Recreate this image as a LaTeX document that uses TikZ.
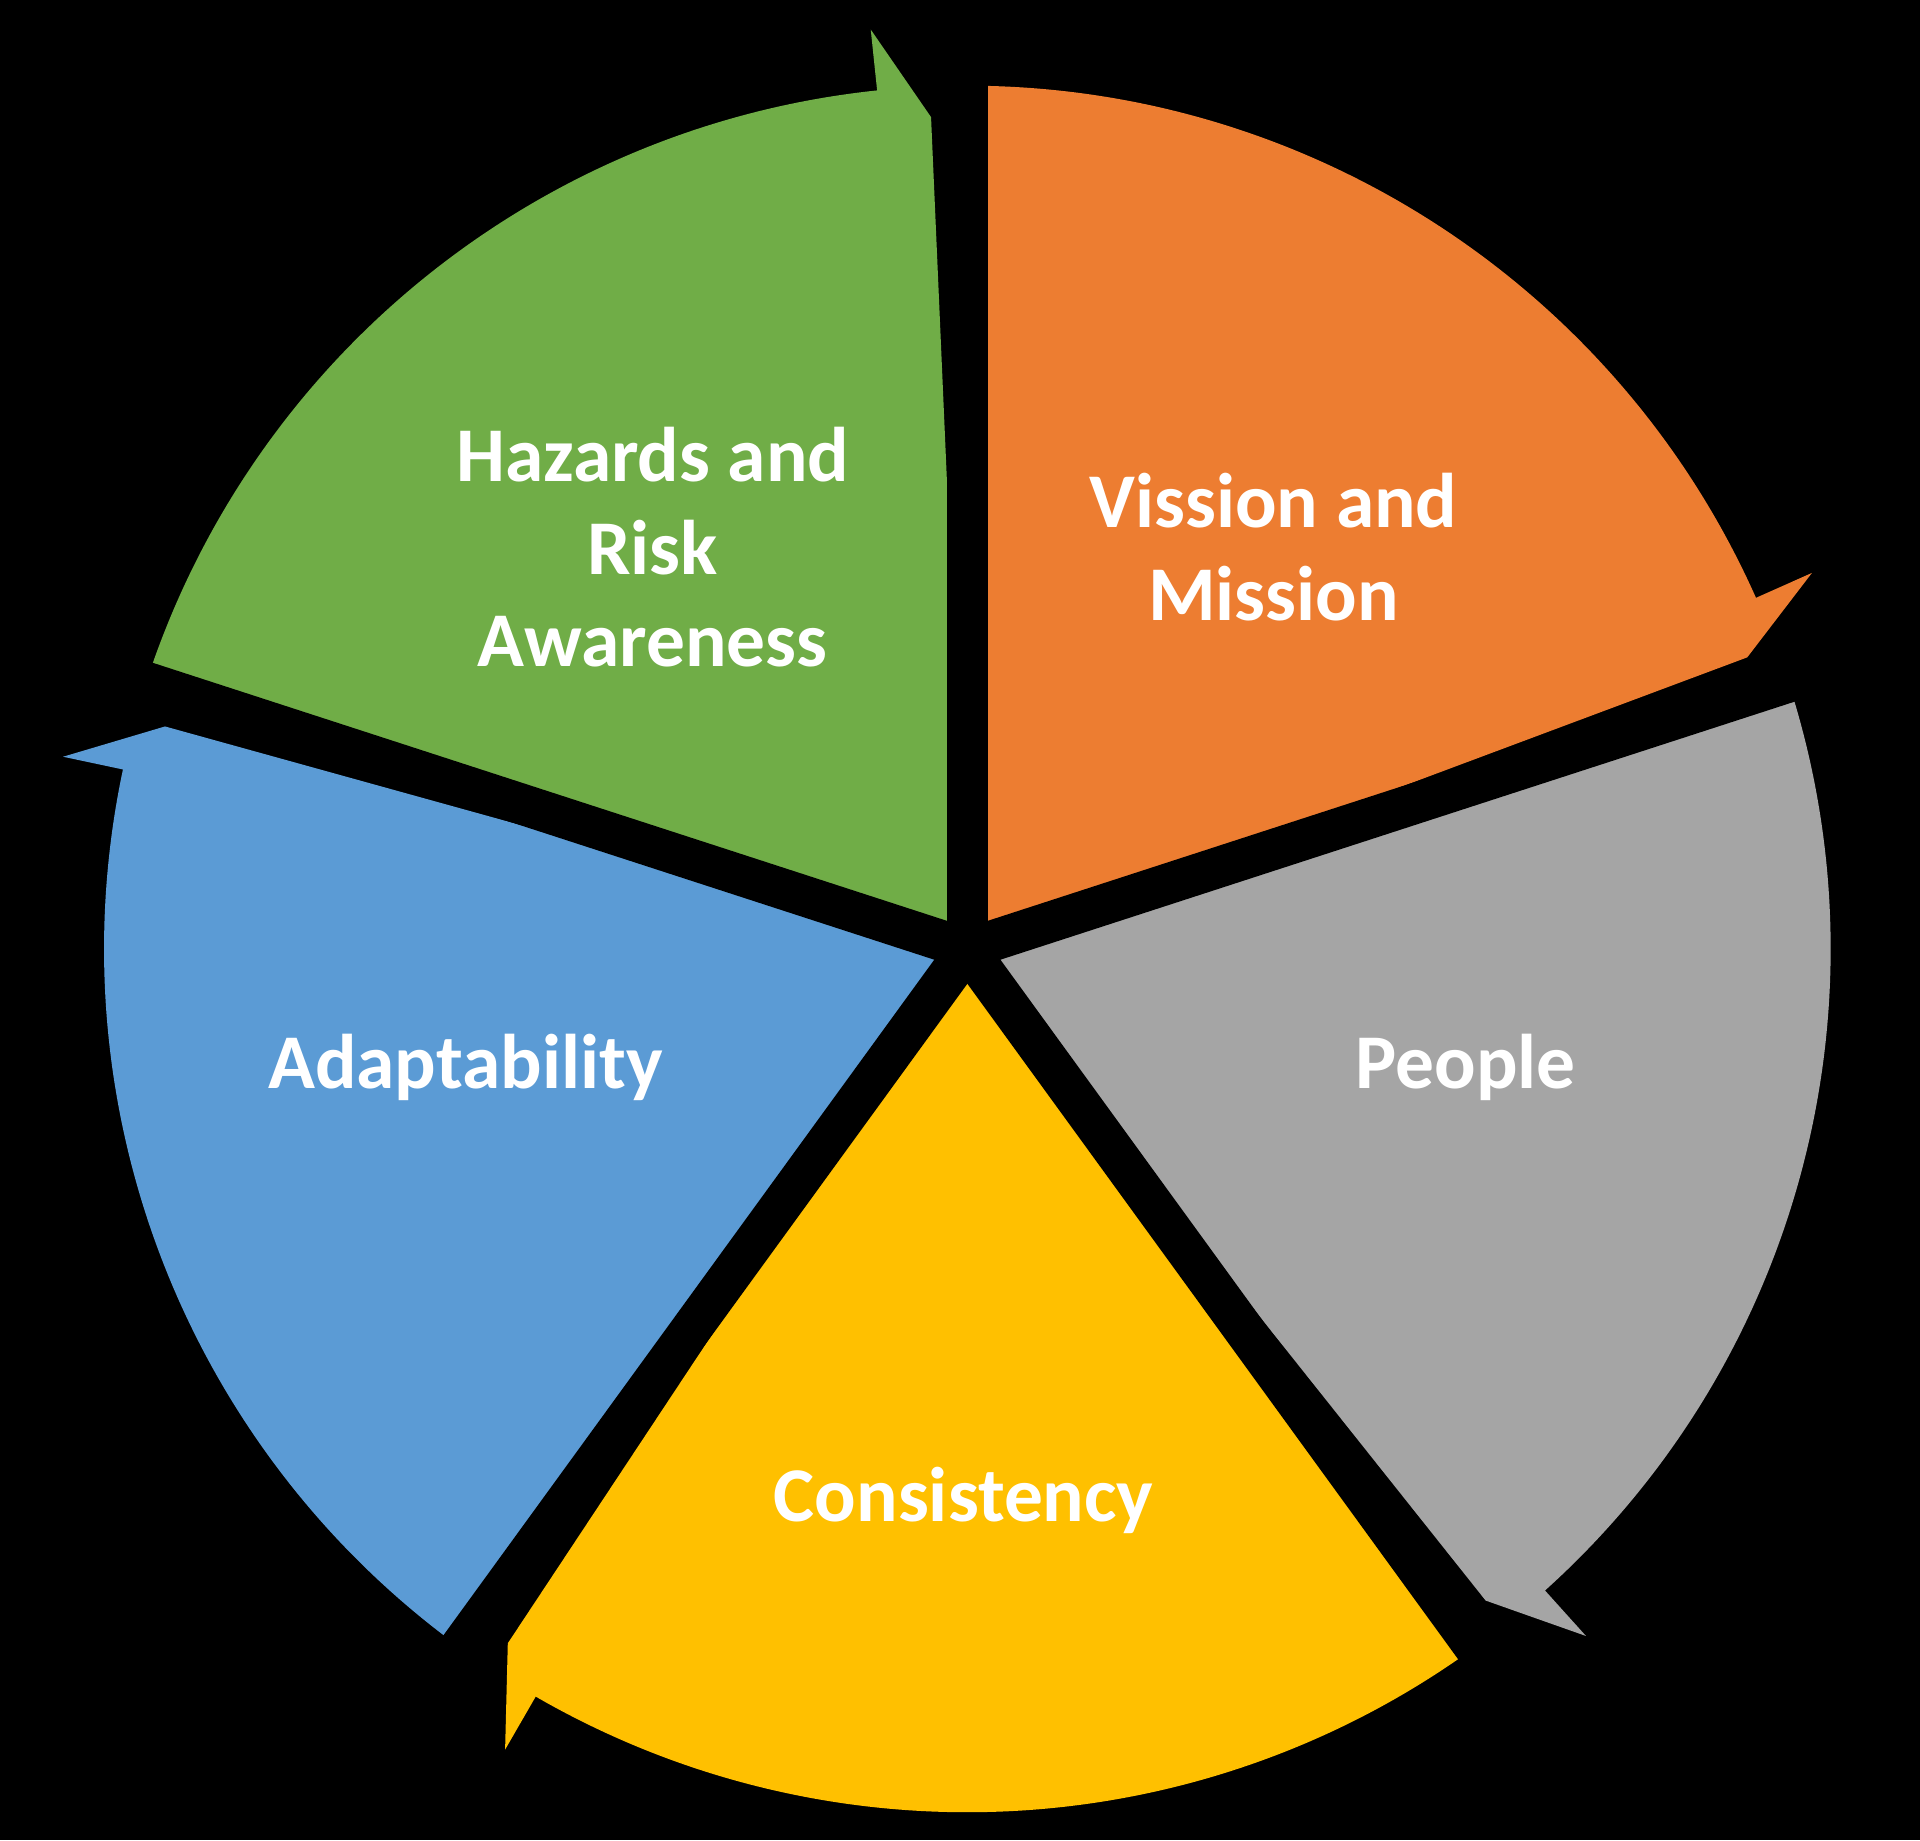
\documentclass[tikz,border=0pt]{standalone}
\usepackage{fontspec}
\setmainfont{Carlito}
\usetikzlibrary{calc}
\definecolor{cgreen}{HTML}{70AD47}
\definecolor{corange}{HTML}{ED7D31}
\definecolor{cgray}{HTML}{A5A5A5}
\definecolor{cyellow}{HTML}{FFC000}
\definecolor{cblue}{HTML}{5B9BD5}
\tikzset{lab/.style={text=white,font=\fontsize{36}{43}\selectfont\bfseries,align=center},
gapline/.style={black,line width=19pt}}
\begin{document}
\begin{tikzpicture}[x=0.02cm,y=0.02cm]
\fill[black] (0,0) rectangle (1568,1503);
\useasboundingbox (0,0) rectangle (1568,1503);
\coordinate (C) at (790,728);
\def\R{705}
\foreach \s/\e/\col in {162/90/cgreen, 90/18/corange, 18/-54/cgray, -54/-126/cyellow, -126/-198/cblue}{
  \fill[\col] (C) -- ($(C)+(\s:\R)$) arc[start angle=\s, end angle=\e+6, radius=\R]
    -- ($(C)+(\e+6:\R+50)$) -- ($(C)+(\e+2.5:\R-25)$) -- cycle;
}
\foreach \a in {90,18,-54,-126,162}{
  \draw[gapline] (C) -- ($(C)+(\a:\R+80)$);
}
\fill[black] (C) circle (22);
\node[lab] (hz) at (533,1056) {Hazards and\\Risk\\Awareness};
\node[lab] (vm) at (1040,1056) {Vission and\\Mission};
\node[lab] (pp) at (1197,631) {People};
\node[lab] (ad) at (380,631) {Adaptability};
\node[lab] (cs) at (787,278) {Consistency};
\end{tikzpicture}
\end{document}
